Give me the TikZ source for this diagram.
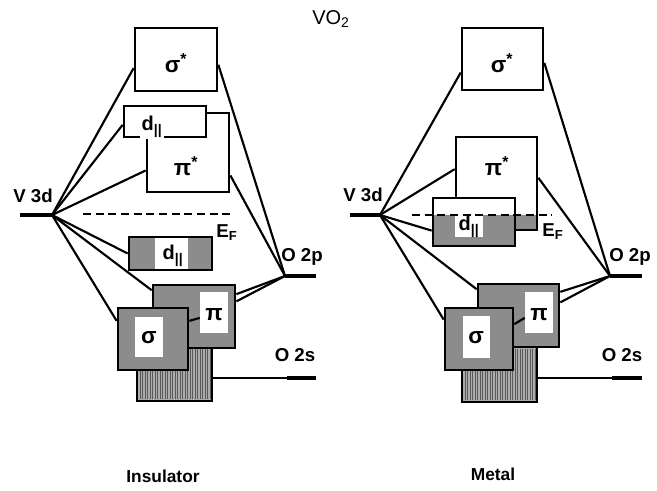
\documentclass[tikz,border=0pt]{standalone}
\usepackage{fontspec}
\setmainfont{Liberation Sans}
\usetikzlibrary{fit,calc}

\begin{document}
\begin{tikzpicture}[x=0.75pt,y=0.75pt,yscale=-1,xscale=1,
  band/.style={draw,line width=2,inner sep=0pt,fill=white},
  greyband/.style={band,fill=black!45},
  hole/.style={fill=white,inner sep=0pt},
  shade/.style={fill=black!45,inner sep=0pt},
  bond/.style={line width=1.6},
  level/.style={line width=3.6},
  fermi/.style={line width=1.6,dash pattern=on 6pt off 3.5pt},
  lbl/.style={font=\fontsize{14}{16}\selectfont\bfseries},
  dlbl/.style={font=\fontsize{15}{17}\selectfont\bfseries,inner sep=1pt},
  greek/.style={font=\fontsize{17}{19}\selectfont\bfseries,inner sep=1pt}]
\useasboundingbox (0,0) rectangle (657,491);

% Title
\node[font=\fontsize{15}{17}\selectfont] (title) at (331,19) {VO\textsubscript{2}};

%%%%%%%%%%%%%%%%%%%% Insulator %%%%%%%%%%%%%%%%%%%%
% O 2s band (hatched)
\node[greyband,fill=black!33,fit={(137,346) (212,401)}] (hsL) {};
\foreach \x in {140,142.5,...,210} \draw[black!65,line width=0.7] (\x,348) -- (\x,399.5);
% pi band
\node[greyband,fit={(153,285) (235,348)}] (piL) {};
\node[hole,fit={(200,292) (228,333)}] (piLw) {};
\node[greek] (piLt) at (214,315) {π};
% sigma band
\node[greyband,fit={(118,308) (188,370)}] (sgL) {};
\node[hole,fit={(135,317) (163,357)}] (sgLw) {};
\node[greek] (sgLt) at (149,338) {σ};
% d|| band below E_F
\node[greyband,fit={(129,237) (212,270)}] (dlL) {};
\node[hole,fit={(155,238.4) (188,268.6)}] (dlLw) {};
\node[dlbl] (dlLt) at (173,256) {d\textsubscript{||}};
% antibonding bands
\node[band,fit={(135,28) (217,91)}] (ssL) {};
\node[greek] (ssLt) at (176,63) {σ\textsuperscript{*}};
\node[band,fit={(147,113) (229,192)}] (psL) {};
\node[greek] (psLt) at (186,166) {π\textsuperscript{*}};
\node[band,fit={(124,106) (206,137)}] (duL) {};
\node[dlbl,fill=white] (duLt) at (152,127) {d\textsubscript{||}};

% levels
\coordinate (vL) at (52,215);
\coordinate (vL0) at (20,215);
\coordinate (oL) at (285,276);
\coordinate (oL0) at (316,276);
\coordinate (osL) at (287,378);
\coordinate (osL0) at (316,378);
\draw[level] (vL0) -- (vL);
\draw[level] (oL) -- (oL0);
\draw[line width=1] (hsL.east |- osL) -- (osL);
\draw[level,line width=3] (osL) -- (osL0);
\draw[fermi] (83,214) -- (233,214);

% bonds V 3d
\draw[bond] (vL) -- ($(ssL.north west)!0.63!(ssL.south west)$);
\draw[bond] (vL) -- ($(duL.north west)!0.6!(duL.south west)$);
\draw[bond] (vL) -- ($(psL.north west)!0.72!(psL.south west)$);
\draw[bond] (vL) -- (dlL.west);
\draw[bond] (vL) -- ($(piL.north west)!0.1!(piL.south west)$);
\draw[bond] (vL) -- ($(sgL.north west)!0.22!(sgL.south west)$);
% bonds O 2p
\draw[bond] (oL) -- ($(ssL.north east)!0.58!(ssL.south east)$);
\draw[bond] (oL) -- ($(psL.north east)!0.78!(psL.south east)$);
\draw[bond] (oL) -- ($(piL.north east)!0.16!(piL.south east)$);
\draw[bond] (oL) -- ($(piL.north east)!0.27!(piL.south east)$);
\draw[bond] ($(sgL.north east)!0.22!(sgL.south east)$) -- ($(piLw.north west)!0.63!(piLw.south west)$);

% labels
\node[lbl] (v3dL) at (33,196) {V 3d};
\node[lbl] (o2pL) at (302,257) {O 2p};
\node[lbl] (o2sL) at (295,355) {O 2s};
\node[lbl] (efL) at (227,233) {E\textsubscript{F}};
\node[lbl,font=\fontsize{13}{15}\selectfont\bfseries] (insL) at (163,476) {Insulator};

%%%%%%%%%%%%%%%%%%%% Metal %%%%%%%%%%%%%%%%%%%%
% O 2s band (hatched)
\node[greyband,fill=black!33,fit={(462,347) (537,402)}] (hsR) {};
\foreach \x in {465,467.5,...,535} \draw[black!65,line width=0.7] (\x,349) -- (\x,400.5);
% pi band
\node[greyband,fit={(478,284) (559,347)}] (piR) {};
\node[hole,fit={(525,292) (553,333)}] (piRw) {};
\node[greek] (piRt) at (539,315) {π};
% sigma band
\node[greyband,fit={(445,308) (513,370)}] (sgR) {};
\node[hole,fit={(463,316) (490,358)}] (sgRw) {};
\node[greek] (sgRt) at (476,338) {σ};
% antibonding bands
\node[band,fit={(462,28) (543,90)}] (ssR) {};
\node[greek] (ssRt) at (502,63) {σ\textsuperscript{*}};
\node[band,fit={(456,137) (537,230)}] (psR) {};
\node[shade,fit={(457.4,215) (535.6,228.6)}] (psRf) {};
\node[greek] (psRt) at (497,166) {π\textsuperscript{*}};
% d|| band at E_F
\node[band,fit={(433,198) (515,246)}] (dlR) {};
\node[shade,fit={(434.4,215) (513.6,244.6)}] (dlRf) {};
\node[hole,fit={(455,215) (483,237)}] (dlRw) {};
\node[dlbl] (dlRt) at (469,227) {d\textsubscript{||}};

% levels
\coordinate (vR) at (380,215);
\coordinate (vR0) at (350,215);
\coordinate (oR) at (610,276);
\coordinate (oR0) at (642,276);
\coordinate (osR) at (612,378);
\coordinate (osR0) at (642,378);
\draw[level] (vR0) -- (vR);
\draw[level] (oR) -- (oR0);
\draw[line width=1] (hsR.east |- osR) -- (osR);
\draw[level,line width=3] (osR) -- (osR0);
\draw[fermi] (412,215) -- (552,215);

% bonds V 3d
\draw[bond] (vR) -- ($(ssR.north west)!0.71!(ssR.south west)$);
\draw[bond] (vR) -- ($(psR.north west)!0.35!(psR.south west)$);
\draw[bond] (vR) -- ($(dlR.north west)!0.67!(dlR.south west)$);
\draw[bond] (vR) -- ($(piR.north west)!0.1!(piR.south west)$);
\draw[bond] (vR) -- ($(sgR.north west)!0.2!(sgR.south west)$);
% bonds O 2p
\draw[bond] (oR) -- ($(ssR.north east)!0.56!(ssR.south east)$);
\draw[bond] (oR) -- ($(psR.north east)!0.44!(psR.south east)$);
\draw[bond] (oR) -- ($(piR.north east)!0.14!(piR.south east)$);
\draw[bond] (oR) -- ($(piR.north east)!0.3!(piR.south east)$);
\draw[bond] ($(sgR.north east)!0.27!(sgR.south east)$) -- ($(piRw.north west)!0.63!(piRw.south west)$);

% labels
\node[lbl] (v3dR) at (363,195) {V 3d};
\node[lbl] (o2pR) at (630,257) {O 2p};
\node[lbl] (o2sR) at (622,355) {O 2s};
\node[lbl] (efR) at (553,232) {E\textsubscript{F}};
\node[lbl,font=\fontsize{13}{15}\selectfont\bfseries] (metR) at (493,474) {Metal};
\end{tikzpicture}
\end{document}
